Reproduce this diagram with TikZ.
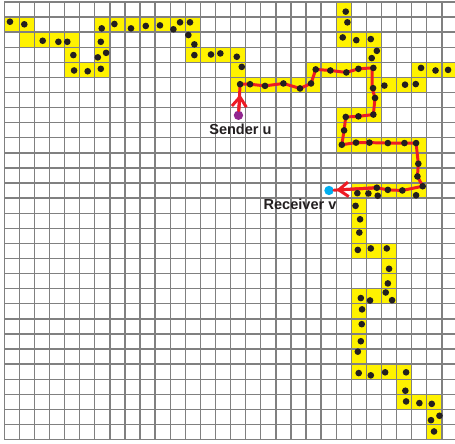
\documentclass[tikz,border=0pt]{standalone}
\usepackage{fontspec}
\setsansfont{Liberation Sans}
\usepackage{xcolor}
\usetikzlibrary{arrows.meta}
\definecolor{cellyellow}{RGB}{255,242,0}
\definecolor{routered}{RGB}{237,28,36}
\definecolor{sendpurple}{RGB}{146,39,143}
\definecolor{recvcyan}{RGB}{0,174,239}
\definecolor{gridgray}{RGB}{128,128,128}
\definecolor{dotblack}{RGB}{35,31,32}

\begin{document}
\begin{tikzpicture}[scale=0.5,
  route/.style={routered,line width=2.8pt,line join=round,line cap=round},
  barb/.style={-{Straight Barb[length=3.2mm,width=4.8mm]}},
  endpt/.style={circle,inner sep=0pt,minimum size=3.1mm},
  lbl/.style={font=\sffamily\bfseries\fontsize{13.7}{16}\selectfont,text=dotblack,inner sep=0pt,anchor=base}]
  \useasboundingbox (-0.28,0.13) rectangle (29.87,-29.23);
  \fill[cellyellow] (22,0) rectangle ++(1,-1);
  \fill[cellyellow] (0,-1) rectangle ++(2,-1);
  \fill[cellyellow] (6,-1) rectangle ++(7,-1);
  \fill[cellyellow] (22,-1) rectangle ++(1,-1);
  \fill[cellyellow] (1,-2) rectangle ++(4,-1);
  \fill[cellyellow] (6,-2) rectangle ++(1,-1);
  \fill[cellyellow] (12,-2) rectangle ++(1,-1);
  \fill[cellyellow] (22,-2) rectangle ++(3,-1);
  \fill[cellyellow] (4,-3) rectangle ++(1,-1);
  \fill[cellyellow] (6,-3) rectangle ++(1,-1);
  \fill[cellyellow] (12,-3) rectangle ++(4,-1);
  \fill[cellyellow] (24,-3) rectangle ++(1,-1);
  \fill[cellyellow] (4,-4) rectangle ++(3,-1);
  \fill[cellyellow] (15,-4) rectangle ++(1,-1);
  \fill[cellyellow] (20,-4) rectangle ++(5,-1);
  \fill[cellyellow] (27,-4) rectangle ++(2.87,-1);
  \fill[cellyellow] (15,-5) rectangle ++(6,-1);
  \fill[cellyellow] (24,-5) rectangle ++(4,-1);
  \fill[cellyellow] (24,-6) rectangle ++(1,-1);
  \fill[cellyellow] (22,-7) rectangle ++(3,-1);
  \fill[cellyellow] (22,-8) rectangle ++(1,-1);
  \fill[cellyellow] (22,-9) rectangle ++(6,-1);
  \fill[cellyellow] (27,-10) rectangle ++(1,-1);
  \fill[cellyellow] (27,-11) rectangle ++(1,-1);
  \fill[cellyellow] (23,-12) rectangle ++(5,-1);
  \fill[cellyellow] (23,-13) rectangle ++(1,-1);
  \fill[cellyellow] (23,-14) rectangle ++(1,-1);
  \fill[cellyellow] (23,-15) rectangle ++(1,-1);
  \fill[cellyellow] (23,-16) rectangle ++(3,-1);
  \fill[cellyellow] (25,-17) rectangle ++(1,-1);
  \fill[cellyellow] (25,-18) rectangle ++(1,-1);
  \fill[cellyellow] (23,-19) rectangle ++(3,-1);
  \fill[cellyellow] (23,-20) rectangle ++(1,-1);
  \fill[cellyellow] (23,-21) rectangle ++(1,-1);
  \fill[cellyellow] (23,-22) rectangle ++(1,-1);
  \fill[cellyellow] (23,-23) rectangle ++(1,-1);
  \fill[cellyellow] (23,-24) rectangle ++(4,-1);
  \fill[cellyellow] (26,-25) rectangle ++(1,-1);
  \fill[cellyellow] (26,-26) rectangle ++(3,-1);
  \fill[cellyellow] (28,-27) rectangle ++(1,-1);
  \fill[cellyellow] (28,-28) rectangle ++(1,-1);
  \draw[step=1,gridgray,line width=1.3pt] (0,-29) grid (29.87,0);

  \node[endpt,fill=sendpurple] (u) at (15.52,-7.51) {};
  \node[endpt,fill=recvcyan] (v) at (21.52,-12.49) {};
  \node[lbl] (lu) at (15.65,-8.77) {Sender u};
  \node[lbl] (lv) at (19.6,-13.74) {Receiver v};
  \coordinate (s1) at (15.63,-6.13);
  \coordinate (r0) at (24.69,-12.31);
  \coordinate (r1) at (22.0,-12.46);

  \draw[route] (u) -- (15.63,-5.45) -- (16.29,-5.45) -- (17.28,-5.56) -- (18.50,-5.40)
    -- (19.60,-5.73) -- (20.33,-5.40) -- (20.64,-4.47) -- (21.61,-4.54) -- (22.67,-4.67)
    -- (23.47,-4.43) -- (24.38,-4.37) -- (24.38,-5.71) -- (24.57,-6.36) -- (24.46,-7.46)
    -- (23.47,-7.58) -- (22.63,-7.62) -- (22.52,-8.51) -- (22.37,-9.46) -- (23.31,-9.32)
    -- (24.20,-9.32) -- (25.42,-9.35) -- (26.52,-9.35) -- (27.29,-9.35) -- (27.44,-10.72)
    -- (27.38,-11.56) -- (27.73,-12.21) -- (26.38,-12.49) -- (25.42,-12.45) -- (r0) -- (v);
  \draw[route,barb] (u) -- (s1);
  \draw[route,barb] (r0) -- (r1);

  \fill[dotblack] (0.38,-1.31) circle (0.22);
  \fill[dotblack] (1.33,-1.48) circle (0.22);
  \fill[dotblack] (2.55,-2.57) circle (0.22);
  \fill[dotblack] (3.59,-2.64) circle (0.22);
  \fill[dotblack] (4.18,-2.64) circle (0.22);
  \fill[dotblack] (4.58,-3.52) circle (0.22);
  \fill[dotblack] (4.63,-4.54) circle (0.22);
  \fill[dotblack] (5.53,-4.59) circle (0.22);
  \fill[dotblack] (6.40,-4.43) circle (0.22);
  \fill[dotblack] (6.20,-3.67) circle (0.22);
  \fill[dotblack] (6.75,-3.37) circle (0.22);
  \fill[dotblack] (6.40,-2.64) circle (0.22);
  \fill[dotblack] (6.46,-1.75) circle (0.22);
  \fill[dotblack] (7.30,-1.46) circle (0.22);
  \fill[dotblack] (8.40,-1.75) circle (0.22);
  \fill[dotblack] (9.38,-1.59) circle (0.22);
  \fill[dotblack] (10.32,-1.55) circle (0.22);
  \fill[dotblack] (11.21,-1.81) circle (0.22);
  \fill[dotblack] (11.65,-1.35) circle (0.22);
  \fill[dotblack] (12.31,-1.35) circle (0.22);
  \fill[dotblack] (12.20,-2.19) circle (0.22);
  \fill[dotblack] (12.60,-2.81) circle (0.22);
  \fill[dotblack] (12.60,-3.52) circle (0.22);
  \fill[dotblack] (13.70,-3.48) circle (0.22);
  \fill[dotblack] (14.32,-3.41) circle (0.22);
  \fill[dotblack] (15.41,-3.63) circle (0.22);
  \fill[dotblack] (15.74,-4.30) circle (0.22);
  \fill[dotblack] (15.63,-5.45) circle (0.22);
  \fill[dotblack] (16.29,-5.45) circle (0.22);
  \fill[dotblack] (17.28,-5.56) circle (0.22);
  \fill[dotblack] (18.50,-5.40) circle (0.22);
  \fill[dotblack] (19.60,-5.73) circle (0.22);
  \fill[dotblack] (20.33,-5.40) circle (0.22);
  \fill[dotblack] (20.64,-4.47) circle (0.22);
  \fill[dotblack] (21.61,-4.54) circle (0.22);
  \fill[dotblack] (22.67,-4.67) circle (0.22);
  \fill[dotblack] (23.47,-4.43) circle (0.22);
  \fill[dotblack] (24.46,-4.37) circle (0.22);
  \fill[dotblack] (22.63,-0.64) circle (0.22);
  \fill[dotblack] (22.74,-1.35) circle (0.22);
  \fill[dotblack] (22.43,-2.35) circle (0.22);
  \fill[dotblack] (23.33,-2.53) circle (0.22);
  \fill[dotblack] (24.29,-2.46) circle (0.22);
  \fill[dotblack] (24.69,-3.24) circle (0.22);
  \fill[dotblack] (24.35,-3.72) circle (0.22);
  \fill[dotblack] (24.44,-5.71) circle (0.22);
  \fill[dotblack] (25.19,-5.54) circle (0.22);
  \fill[dotblack] (26.56,-5.48) circle (0.22);
  \fill[dotblack] (27.27,-5.44) circle (0.22);
  \fill[dotblack] (27.62,-4.37) circle (0.22);
  \fill[dotblack] (28.58,-4.54) circle (0.22);
  \fill[dotblack] (29.41,-4.50) circle (0.22);
  \fill[dotblack] (24.57,-6.36) circle (0.22);
  \fill[dotblack] (22.63,-7.62) circle (0.22);
  \fill[dotblack] (23.47,-7.58) circle (0.22);
  \fill[dotblack] (24.46,-7.46) circle (0.22);
  \fill[dotblack] (22.52,-8.51) circle (0.22);
  \fill[dotblack] (22.37,-9.46) circle (0.22);
  \fill[dotblack] (23.31,-9.32) circle (0.22);
  \fill[dotblack] (24.20,-9.32) circle (0.22);
  \fill[dotblack] (25.42,-9.35) circle (0.22);
  \fill[dotblack] (26.52,-9.35) circle (0.22);
  \fill[dotblack] (27.29,-9.35) circle (0.22);
  \fill[dotblack] (27.44,-10.72) circle (0.22);
  \fill[dotblack] (27.38,-11.56) circle (0.22);
  \fill[dotblack] (27.73,-12.21) circle (0.22);
  \fill[dotblack] (23.40,-12.67) circle (0.22);
  \fill[dotblack] (24.13,-12.69) circle (0.22);
  \fill[dotblack] (24.69,-12.31) circle (0.22);
  \fill[dotblack] (24.75,-12.84) circle (0.22);
  \fill[dotblack] (25.42,-12.45) circle (0.22);
  \fill[dotblack] (26.38,-12.49) circle (0.22);
  \fill[dotblack] (27.29,-12.81) circle (0.22);
  \fill[dotblack] (23.28,-13.51) circle (0.22);
  \fill[dotblack] (23.58,-14.40) circle (0.22);
  \fill[dotblack] (23.53,-15.28) circle (0.22);
  \fill[dotblack] (23.43,-16.43) circle (0.22);
  \fill[dotblack] (24.29,-16.33) circle (0.22);
  \fill[dotblack] (25.35,-16.33) circle (0.22);
  \fill[dotblack] (25.50,-17.68) circle (0.22);
  \fill[dotblack] (25.42,-18.65) circle (0.22);
  \fill[dotblack] (23.63,-19.62) circle (0.22);
  \fill[dotblack] (24.24,-19.78) circle (0.22);
  \fill[dotblack] (25.28,-19.25) circle (0.22);
  \fill[dotblack] (25.70,-19.76) circle (0.22);
  \fill[dotblack] (23.71,-20.37) circle (0.22);
  \fill[dotblack] (23.69,-21.35) circle (0.22);
  \fill[dotblack] (23.63,-22.48) circle (0.22);
  \fill[dotblack] (23.43,-23.17) circle (0.22);
  \fill[dotblack] (23.49,-24.59) circle (0.22);
  \fill[dotblack] (24.29,-24.74) circle (0.22);
  \fill[dotblack] (25.24,-24.54) circle (0.22);
  \fill[dotblack] (26.63,-24.54) circle (0.22);
  \fill[dotblack] (26.58,-25.76) circle (0.22);
  \fill[dotblack] (26.63,-26.47) circle (0.22);
  \fill[dotblack] (27.51,-26.58) circle (0.22);
  \fill[dotblack] (28.33,-26.63) circle (0.22);
  \fill[dotblack] (28.28,-27.71) circle (0.22);
  \fill[dotblack] (28.84,-27.42) circle (0.22);
  \fill[dotblack] (28.48,-28.46) circle (0.22);
\end{tikzpicture}
\end{document}
